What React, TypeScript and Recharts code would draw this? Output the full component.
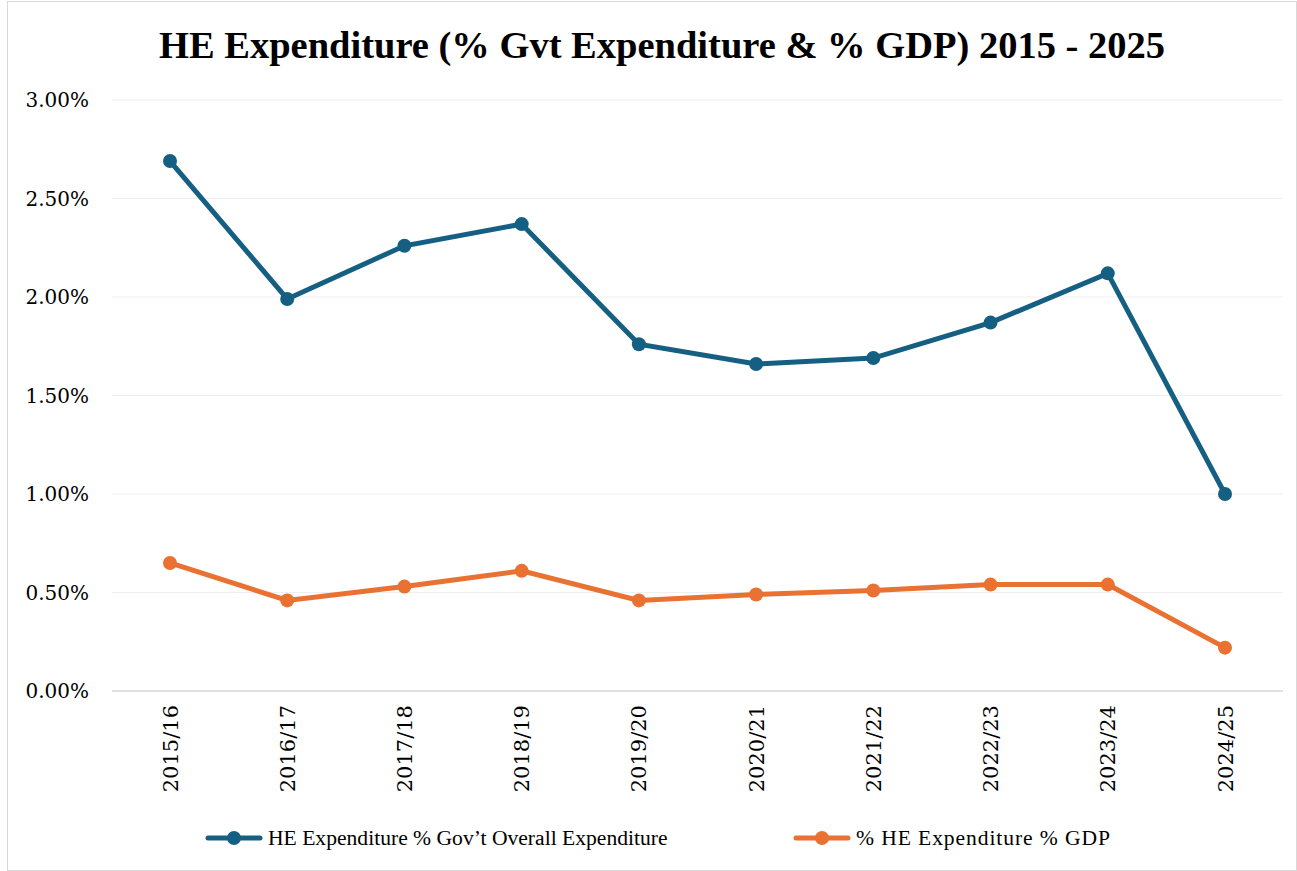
import React from "react";
import { LineChart, Line, XAxis, YAxis, CartesianGrid, Legend } from "recharts";

const categories = ["2015/16", "2016/17", "2017/18", "2018/19", "2019/20", "2020/21", "2021/22", "2022/23", "2023/24", "2024/25"];
const govExpShare = [2.69, 1.99, 2.26, 2.37, 1.76, 1.66, 1.69, 1.87, 2.12, 1.0];
const gdpShare = [0.65, 0.46, 0.53, 0.61, 0.46, 0.49, 0.51, 0.54, 0.54, 0.22];
const yTicks = [0, 0.5, 1, 1.5, 2, 2.5, 3];

const SERIES1 = "HE Expenditure % Gov’t Overall Expenditure";
const SERIES2 = "% HE Expenditure % GDP";
const seriesOrder = [SERIES1, SERIES2];
const BLUE = "#156082";
const ORANGE = "#E97132";

const data = categories.map((c, i) => ({ cat: c, gov: govExpShare[i], gdp: gdpShare[i] }));

const XTick = (props: any) => {
  const { x, y, payload } = props;
  const yy = y + 14;
  return (
    <text
      x={x}
      y={yy}
      transform={`rotate(-90 ${x} ${yy})`}
      textAnchor="end"
      dy="0.36em"
      fontFamily="'DejaVu Serif', serif"
      fontSize={21}
      fill="#000"
    >
      {payload.value}
    </text>
  );
};

const legendLeft = [197, 785];
const legendSpacing = [0, 0.9];

const LegendContent = (props: any) => {
  const items = [...(props.payload || [])].sort(
    (a: any, b: any) => seriesOrder.indexOf(a.value) - seriesOrder.indexOf(b.value)
  );
  return (
    <div style={{ position: "relative", width: "100%", height: 40 }}>
      {items.map((p: any, i: number) => (
        <div
          key={i}
          style={{
            position: "absolute",
            left: legendLeft[i],
            top: 0,
            height: 40,
            display: "flex",
            alignItems: "center",
            whiteSpace: "nowrap",
          }}
        >
          <svg width={58} height={20} style={{ marginRight: 5 }}>
            <line x1={3} y1={10} x2={55} y2={10} stroke={p.color} strokeWidth={5} strokeLinecap="round" />
            <circle cx={29} cy={10} r={7} fill={p.color} />
          </svg>
          <span
            style={{
              fontFamily: "'Liberation Serif', serif",
              fontSize: 21.6,
              color: "#000",
              letterSpacing: legendSpacing[i],
            }}
          >
            {p.value}
          </span>
        </div>
      ))}
    </div>
  );
};

export default function App() {
  return (
    <div
      style={{
        position: "absolute",
        left: 7,
        top: 1,
        width: 1288,
        height: 868,
        border: "1px solid #d9d9d9",
        background: "#fff",
        overflow: "hidden",
      }}
    >
      <div
        style={{
          position: "absolute",
          left: 0,
          width: 1308,
          top: 20,
          textAlign: "center",
          fontFamily: "'Liberation Serif', serif",
          fontWeight: 700,
          fontSize: 38.5,
          color: "#000",
          lineHeight: "46px",
        }}
      >
        HE Expenditure (% Gvt Expenditure &amp; % GDP) 2015 - 2025
      </div>
      <LineChart
        width={1288}
        height={868}
        data={data}
        margin={{ top: 98, right: 13, bottom: 12, left: 0 }}
      >
        <CartesianGrid vertical={false} stroke="#efefef" strokeWidth={1} />
        <XAxis
          dataKey="cat"
          interval={0}
          tickLine={false}
          axisLine={{ stroke: "#d9d9d9", strokeWidth: 1.5 }}
          tickSize={0}
          tickMargin={0}
          height={127}
          padding={{ left: 58, right: 58 }}
          tick={<XTick />}
        />
        <YAxis
          domain={[0, 3]}
          ticks={yTicks}
          width={104}
          tickLine={false}
          axisLine={false}
          tickSize={0}
          tickMargin={23}
          tickFormatter={(v: number) => v.toFixed(2) + "%"}
          tick={{ fontFamily: "'DejaVu Serif', serif", fontSize: 20, fill: "#000" }}
        />
        <Legend verticalAlign="bottom" content={<LegendContent />} />
        <Line
          type="linear"
          dataKey="gov"
          name={SERIES1}
          stroke={BLUE}
          strokeWidth={5}
          dot={{ r: 7, fill: BLUE, stroke: BLUE, strokeWidth: 0 }}
          isAnimationActive={false}
        />
        <Line
          type="linear"
          dataKey="gdp"
          name={SERIES2}
          stroke={ORANGE}
          strokeWidth={5}
          dot={{ r: 7, fill: ORANGE, stroke: ORANGE, strokeWidth: 0 }}
          isAnimationActive={false}
        />
      </LineChart>
    </div>
  );
}
